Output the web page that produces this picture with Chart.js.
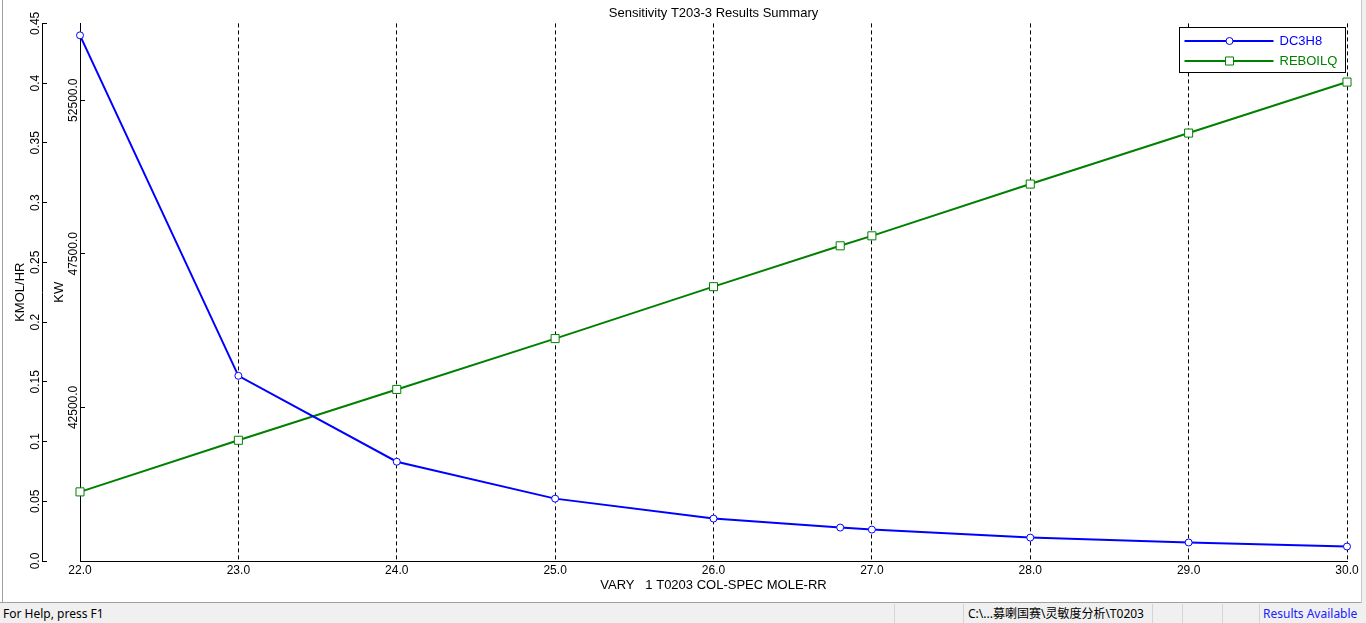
<!DOCTYPE html>
<html>
<head>
<meta charset="utf-8">
<script src="https://cdn.jsdelivr.net/npm/chart.js@4.4.1/dist/chart.umd.min.js"></script>
<style>
  html, body { margin:0; padding:0; }
  body { width:1366px; height:623px; background:#f0f0f0; overflow:hidden; position:relative; font-family:"Noto Sans", sans-serif; }
  #panel { position:absolute; left:0; top:0; width:1361px; height:602px; background:#fff; }
  #c { display:block; }
  .ln { position:absolute; }
  .st { position:absolute; top:605px; font-size:12px; line-height:17px; color:#000; white-space:nowrap; }
  .sep { position:absolute; top:604px; width:1px; height:19px; background:#d4d4d4; }
</style>
</head>
<body>
<div id="panel"><canvas id="c" width="1361" height="602"></canvas></div>
<div class="ln" style="left:2px;top:0;width:1px;height:602px;background:#a0a0a0"></div>
<div class="ln" style="left:0;top:602px;width:1362px;height:1px;background:#a0a0a0"></div>
<div class="ln" style="left:1361px;top:0;width:1px;height:603px;background:#c8c8c8"></div>
<div class="st" style="left:3px">For Help, press F1</div>
<div class="sep" style="left:894px"></div>
<div class="sep" style="left:963px"></div>
<div class="st" style="left:968px;font-family:'Noto Sans','Noto Sans CJK SC',sans-serif">C:\...募喇国赛\灵敏度分析\T0203</div>
<div class="sep" style="left:1152px"></div>
<div class="sep" style="left:1182px"></div>
<div class="sep" style="left:1222px"></div>
<div class="sep" style="left:1259px"></div>
<div class="st" style="left:1263px;color:#2020ff">Results Available</div>
<script>
// ---- data ----
const chartTitle = 'Sensitivity T203-3 Results Summary';
const xTitle = 'VARY   1 T0203 COL-SPEC MOLE-RR';
const kmolTitle = 'KMOL/HR';
const kwTitle = 'KW';
const xValues = [22, 23, 24, 25, 26, 26.8, 27, 28, 29, 30];
const dc3h8 = [0.440, 0.155, 0.0831, 0.0522, 0.0355, 0.0280, 0.0263, 0.0196, 0.0155, 0.0121];
const reboilq = [39750, 41430, 43085, 44740, 46430, 47760, 48085, 49770, 51430, 53090];
const xTickLabels = ['22.0', '23.0', '24.0', '25.0', '26.0', '27.0', '28.0', '29.0', '30.0'];
const kmolTickLabels = ['0.0', '0.05', '0.1', '0.15', '0.2', '0.25', '0.3', '0.35', '0.4', '0.45'];
const kwTickLabels = ['42500.0', '47500.0', '52500.0'];
const seriesNames = ['DC3H8', 'REBOILQ'];

const FONT = '"Liberation Sans", Arial, sans-serif';
const xTickValues = xTickLabels.map(parseFloat);
const kmolTickValues = kmolTickLabels.map(parseFloat);
const kwTickValues = kwTickLabels.map(parseFloat);

function setTicks(values) {
  return function (scale) { scale.ticks = values.map(v => ({ value: v })); };
}

const yLabelPlugin = {
  id: 'yLabels',
  afterDraw(chart) {
    const ctx = chart.ctx;
    ctx.save();
    ctx.font = '12px ' + FONT;
    ctx.fillStyle = '#000';
    ctx.textAlign = 'center';
    ctx.textBaseline = 'middle';
    [['yKmol', kmolTickLabels], ['yKw', kwTickLabels]].forEach(([id, labels]) => {
      const s = chart.scales[id];
      s.ticks.forEach((t, i) => {
        const py = s.getPixelForValue(t.value);
        ctx.save();
        ctx.translate(s.right - 6, py);
        ctx.rotate(-Math.PI / 2);
        ctx.fillText(labels[i], 0, 0);
        ctx.restore();
      });
    });
    ctx.restore();
  }
};

const legendPlugin = {
  id: 'boxLegend',
  afterDraw(chart) {
    const ctx = chart.ctx;
    const area = chart.chartArea;
    const bw = 166, bh = 45;
    const bx = Math.round(area.right - 2 - bw) + 0.5;
    const by = Math.round(area.top + 4) + 0.5;
    ctx.save();
    ctx.fillStyle = '#fff';
    ctx.fillRect(bx, by, bw, bh);
    ctx.strokeStyle = '#000';
    ctx.lineWidth = 1;
    ctx.strokeRect(bx, by, bw, bh);
    chart.data.datasets.forEach((ds, i) => {
      const ry = Math.round(by + 13 + i * 20);
      ctx.strokeStyle = ds.borderColor;
      ctx.lineWidth = 2;
      ctx.beginPath();
      ctx.moveTo(bx + 5, ry);
      ctx.lineTo(bx + 94, ry);
      ctx.stroke();
      const opts = { pointStyle: ds.pointStyle, radius: ds.pointRadius, rotation: 0, borderWidth: 1 };
      ctx.fillStyle = '#fff';
      ctx.strokeStyle = ds.borderColor;
      ctx.lineWidth = 1;
      if (Chart.helpers && Chart.helpers.drawPoint) {
        Chart.helpers.drawPoint(ctx, opts, bx + 50, ry);
      }
      ctx.fillStyle = ds.borderColor;
      ctx.font = '13px ' + FONT;
      ctx.textAlign = 'left';
      ctx.textBaseline = 'middle';
      ctx.fillText(ds.label, bx + 100, ry);
    });
    ctx.restore();
  }
};

new Chart(document.getElementById('c'), {
  type: 'line',
  data: {
    datasets: [
      {
        label: seriesNames[0],
        data: xValues.map((x, i) => ({ x: x, y: dc3h8[i] })),
        yAxisID: 'yKmol',
        borderColor: '#0000ff',
        borderWidth: 2,
        tension: 0,
        fill: false,
        clip: false,
        pointStyle: 'circle',
        pointRadius: 3.5,
        pointBorderWidth: 1,
        pointBackgroundColor: '#ffffff',
        pointBorderColor: '#0000ff'
      },
      {
        label: seriesNames[1],
        data: xValues.map((x, i) => ({ x: x, y: reboilq[i] })),
        yAxisID: 'yKw',
        borderColor: '#008000',
        borderWidth: 2,
        tension: 0,
        fill: false,
        clip: false,
        pointStyle: 'rect',
        pointRadius: 5.7,
        pointBorderWidth: 1,
        pointBackgroundColor: '#ffffff',
        pointBorderColor: '#008000'
      }
    ]
  },
  options: {
    responsive: false,
    animation: false,
    events: [],
    layout: { padding: { left: 0, right: 14, top: 0, bottom: 0 } },
    plugins: {
      legend: { display: false },
      tooltip: { enabled: false },
      title: {
        display: true,
        text: chartTitle,
        fullSize: false,
        color: '#000',
        font: { family: FONT, size: 13, weight: 'normal', lineHeight: 1.2 },
        padding: { top: 5.2, bottom: 2.6 }
      }
    },
    scales: {
      x: {
        type: 'linear',
        position: 'bottom',
        min: 22,
        max: 30,
        afterBuildTicks: setTicks(xTickValues),
        afterFit: s => { s.height = 41; },
        ticks: {
          autoSkip: false,
          maxRotation: 0,
          minRotation: 0,
          padding: 2,
          color: '#000',
          font: { family: FONT, size: 12 },
          callback: (v, i) => xTickLabels[i]
        },
        grid: { color: '#000', lineWidth: 1, drawTicks: false, drawOnChartArea: true, borderDash: [4, 3] },
        border: { display: true, color: '#000', width: 1, dash: [4, 3] },
        title: {
          display: true,
          text: xTitle,
          color: '#000',
          font: { family: FONT, size: 13, lineHeight: 1.2 },
          padding: { top: 0, bottom: 9.2 }
        }
      },
      yKmol: {
        type: 'linear',
        position: 'left',
        weight: 2,
        min: 0,
        max: 0.45,
        afterBuildTicks: setTicks(kmolTickValues),
        afterFit: s => { s.width = 42; },
        ticks: { display: false },
        grid: { color: '#000', lineWidth: 1, drawOnChartArea: false, drawTicks: true, tickLength: -5 },
        border: { display: true, color: '#000', width: 1 },
        title: {
          display: true,
          text: kmolTitle,
          color: '#000',
          font: { family: FONT, size: 13, lineHeight: 1.2 },
          padding: { top: 12.2, bottom: 0 }
        }
      },
      yKw: {
        type: 'linear',
        position: 'left',
        weight: 1,
        min: 37500,
        max: 55000,
        afterBuildTicks: setTicks(kwTickValues),
        afterFit: s => { s.width = 38; },
        ticks: { display: false },
        grid: { color: '#000', lineWidth: 1, drawOnChartArea: false, drawTicks: true, tickLength: -5 },
        border: { display: true, color: '#000', width: 1 },
        title: {
          display: true,
          text: kwTitle,
          color: '#000',
          font: { family: FONT, size: 13, lineHeight: 1.2 },
          padding: { top: 9.2, bottom: 0 }
        }
      }
    }
  },
  plugins: [yLabelPlugin, legendPlugin]
});
</script>
</body>
</html>
